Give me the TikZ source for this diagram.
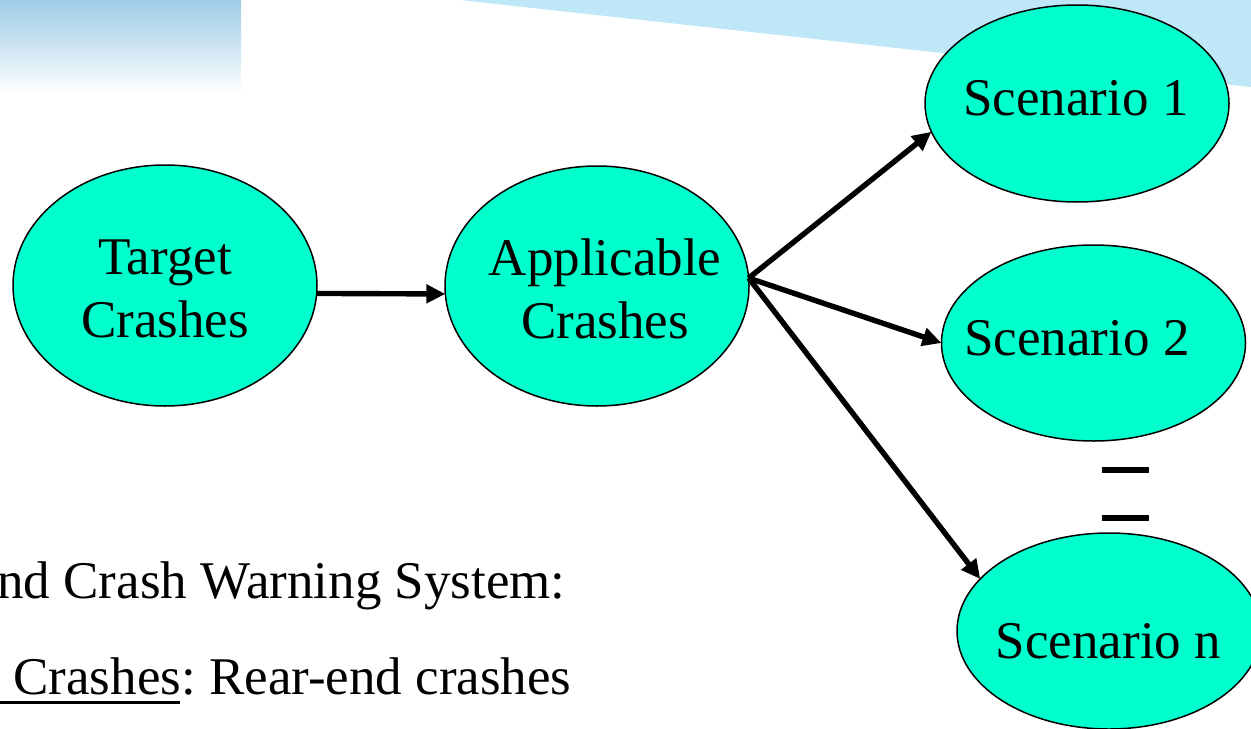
\documentclass[tikz,border=0pt]{standalone}
\usepackage{fontspec}
\setmainfont{Liberation Serif}
\usetikzlibrary{arrows.meta,shapes.geometric}
\definecolor{aqua}{RGB}{0,255,204}
\definecolor{bandblue}{RGB}{190,232,247}
\definecolor{barblue}{RGB}{158,204,230}
\frenchspacing
\begin{document}
\begin{tikzpicture}[x=0.5pt,y=-0.5pt,
  bubble/.style={ellipse,draw=black,line width=0.75pt,fill=aqua,inner sep=0pt,outer sep=0pt,minimum width=152pt},
  lbl/.style={font=\fontsize{26.5pt}{31.5pt}\selectfont,inner sep=0pt,align=center},
  conn/.style={line width=2.7pt,-{Triangle[length=9.5pt,width=9pt]}},
  bar/.style={line width=3pt}]
\useasboundingbox (0,0) rectangle (1251,728);
\clip (0,0) rectangle (1251,728);
% background decoration
\shade[top color=barblue,bottom color=white] (0,0) rectangle (241,95);
\fill[bandblue] (460,0) -- (1251,0) -- (1251,87) -- cycle;
% ellipses
\node[bubble,minimum height=120.5pt] (tc) at (165,285.5) {};
\node[bubble,minimum height=120pt] (app) at (597,286) {};
\node[bubble,minimum height=98.5pt] (s1) at (1077,103.5) {};
\node[bubble,minimum height=98pt] (s2) at (1093.5,343) {};
\node[bubble,minimum height=98pt] (sn) at (1109,631) {};
% labels
\node[lbl] (tct) at (165,289) {Target\\Crashes};
\node[lbl] (appt) at (605,288.5) {Applicable\\Crashes};
\node[lbl,anchor=base] (s1t) at (1076,115) {Scenario 1};
\node[lbl,anchor=base] (s2t) at (1077,355) {Scenario 2};
\node[lbl,anchor=base] (snt) at (1108.5,658) {Scenario n};
% connectors
\coordinate (fork) at (app.3);
\draw[conn] (tc.-3) -- (app.183);
\draw[conn] (fork) -- (s1.191);
\draw[conn] (fork) -- (s2.west);
\draw[conn] (fork) -- (sn.158);
% dashes
\draw[bar] (1102,470) -- (1149,470);
\draw[bar] (1102,518) -- (1149,518);
% bottom text
\node[lbl,anchor=base east] (b1) at (566,598) {nd Crash Warning System:};
\node[lbl,anchor=base east] (b2) at (572,694) {Crashes: Rear-end crashes};
\draw[line width=1.5pt] (0,702) -- (180,702);
\end{tikzpicture}
\end{document}
